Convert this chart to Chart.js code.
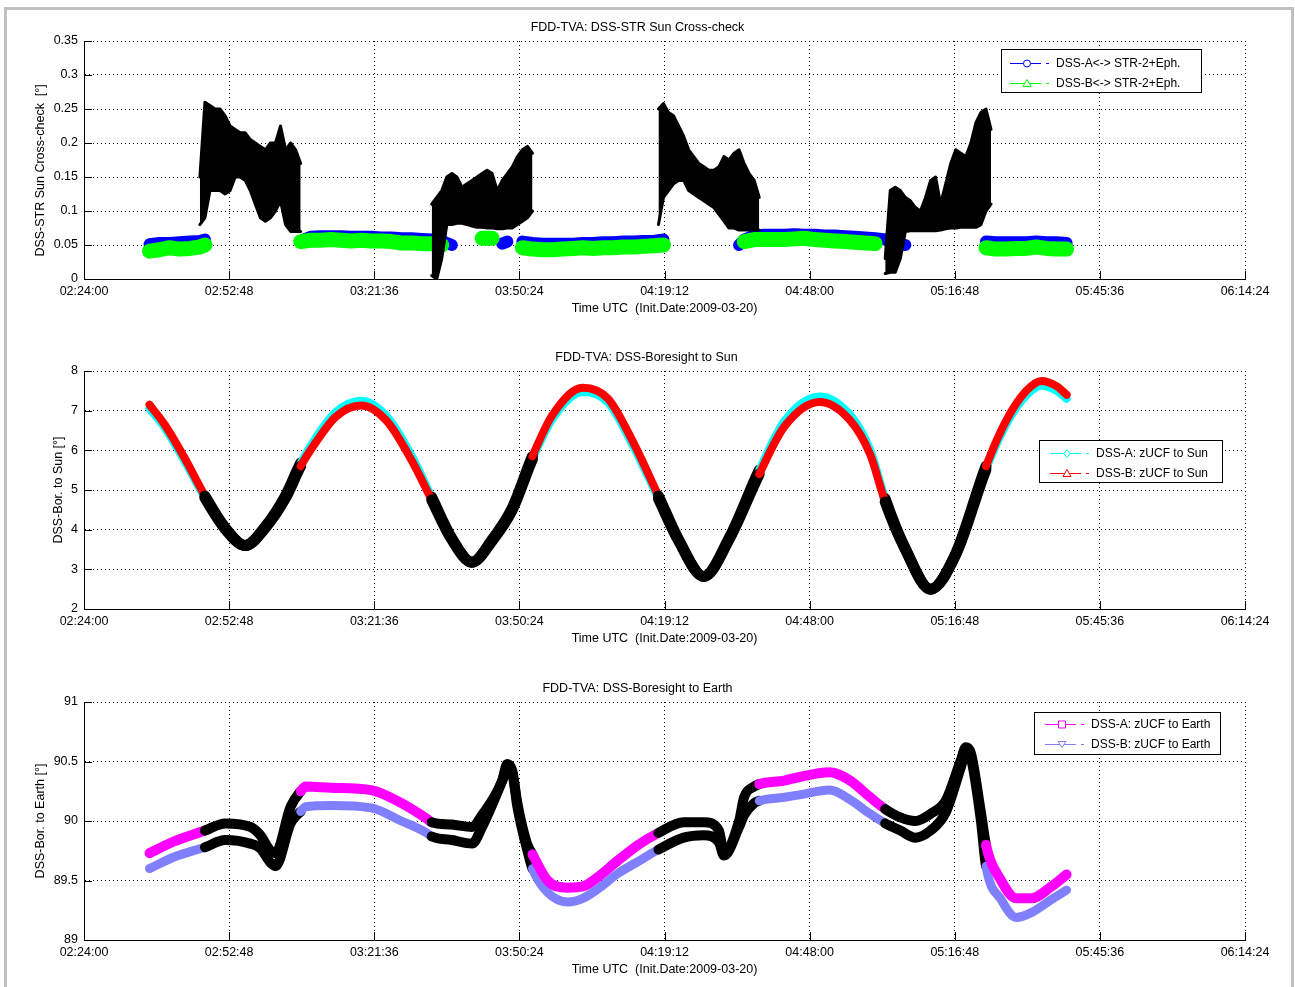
<!DOCTYPE html>
<html>
<head>
<meta charset="utf-8">
<title>FDD-TVA DSS checks</title>
<script src="https://cdn.jsdelivr.net/npm/chart.js@4.4.1/dist/chart.umd.min.js"></script>
<style>
  html, body { margin: 0; padding: 0; background: #fff; }
  body { width: 1295px; height: 987px; position: relative; overflow: hidden; }
  .frame { position: absolute; left: 4px; top: 7px; width: 1290px; height: 1010px; border: 3px solid #c0c0c0; box-sizing: border-box; }
  canvas { position: absolute; left: 0; display: block; }
</style>
</head>
<body>
<div class="frame"></div>
<canvas id="cross" width="1295" height="330" style="top:0"></canvas>
<canvas id="sun" width="1295" height="330" style="top:330px"></canvas>
<canvas id="earth" width="1295" height="330" style="top:661px"></canvas>
<script>
// x axis range (UTC time of day)
const xStart = '02:24:00';
const xEnd = '06:14:24';
const xStep = '00:28:48';

// intervals drawn in black on every panel
const flagWindows = [['02:48', '03:07'], ['03:33', '03:53'], ['04:18', '04:38'], ['05:03', '05:23']];

// --- panel 1: DSS / STR sun cross-check [deg] (null = gap)
const crossTimes = [
  '02:37', '02:39', '02:41', '02:43', '02:45', '02:47', '02:48',
  '02:58',
  '03:07', '03:09', '03:11', '03:13', '03:15', '03:17', '03:19', '03:21', '03:23', '03:25', '03:27', '03:29', '03:31', '03:33', '03:35', '03:37',
  '03:40',
  '03:43', '03:45', '03:46', '03:47', '03:48',
  '03:49',
  '03:51', '03:53', '03:55', '03:57', '03:59', '04:01', '04:03', '04:05', '04:07', '04:09', '04:11', '04:13', '04:15', '04:17', '04:19',
  '04:27',
  '04:34', '04:35', '04:37', '04:39', '04:41', '04:43', '04:45', '04:47', '04:49', '04:51', '04:53', '04:55', '04:57', '04:59', '05:01', '05:03', '05:05', '05:07',
  '05:15',
  '05:23', '05:25', '05:27', '05:29', '05:31', '05:33', '05:35', '05:37', '05:39'
];
const crossA = [
  0.051, 0.053, 0.053, 0.054, 0.055, 0.056, 0.058,
  null,
  0.056, 0.062, 0.063, 0.063, 0.063, 0.062, 0.062, 0.062, 0.061, 0.061, 0.060, 0.060, 0.059, 0.058, 0.056, 0.050,
  null,
  null, null, null, 0.052, 0.055,
  null,
  0.055, 0.053, 0.052, 0.052, 0.052, 0.052, 0.053, 0.053, 0.054, 0.054, 0.055, 0.055, 0.056, 0.056, 0.058,
  null,
  0.050, 0.058, 0.064, 0.065, 0.065, 0.065, 0.066, 0.065, 0.065, 0.064, 0.064, 0.063, 0.062, 0.061, 0.060, 0.058, 0.050, 0.050,
  null,
  0.055, 0.054, 0.054, 0.054, 0.054, 0.055, 0.054, 0.054, 0.053
];
const crossB = [
  0.041, 0.043, 0.046, 0.044, 0.045, 0.047, 0.050,
  null,
  0.055, 0.057, 0.057, 0.058, 0.057, 0.056, 0.057, 0.056, 0.056, 0.055, 0.053, 0.053, 0.052, 0.052, 0.050, null,
  null,
  0.060, 0.060, null, null, null,
  null,
  0.046, 0.044, 0.043, 0.043, 0.044, 0.045, 0.046, 0.045, 0.046, 0.046, 0.047, 0.047, 0.048, 0.049, 0.050,
  null,
  null, 0.055, 0.058, 0.058, 0.058, 0.058, 0.059, 0.060, 0.058, 0.057, 0.056, 0.055, 0.054, 0.053, 0.052, null, null, null,
  null,
  0.046, 0.044, 0.044, 0.045, 0.045, 0.047, 0.045, 0.044, 0.044
];
// flagged points, drawn as an upper / lower envelope
const blackTimes = [
  '02:47', '02:48', '02:49', '02:50', '02:51', '02:52', '02:53', '02:54', '02:55', '02:56', '02:57',
  '02:58', '02:59', '03:00', '03:01', '03:02', '03:03', '03:04', '03:05', '03:06', '03:07',
  '03:20',
  '03:33', '03:34', '03:35', '03:36', '03:37', '03:38', '03:39', '03:40', '03:41', '03:42', '03:43',
  '03:44', '03:45', '03:46', '03:47', '03:48', '03:49', '03:50', '03:51', '03:52', '03:53',
  '04:05',
  '04:18', '04:19', '04:20', '04:21', '04:22', '04:23', '04:24', '04:25', '04:26', '04:27', '04:28',
  '04:29', '04:30', '04:31', '04:32', '04:33', '04:34', '04:35', '04:36', '04:37', '04:38',
  '04:50',
  '05:03', '05:04', '05:05', '05:06', '05:07', '05:08', '05:09', '05:10', '05:11', '05:12', '05:13',
  '05:14', '05:15', '05:16', '05:17', '05:18', '05:19', '05:20', '05:21', '05:22', '05:23', '05:24'
];
const blackHigh = [
  0.150, 0.260, 0.255, 0.250, 0.250, 0.240, 0.225, 0.220, 0.215, 0.215, 0.205,
  0.200, 0.195, 0.190, 0.200, 0.200, 0.225, 0.190, 0.200, 0.190, 0.170,
  null,
  0.110, 0.120, 0.130, 0.150, 0.155, 0.150, 0.135, 0.140, 0.145, 0.150, 0.155,
  0.160, 0.155, 0.130, 0.145, 0.155, 0.165, 0.180, 0.190, 0.195, 0.185,
  null,
  0.250, 0.258, 0.245, 0.240, 0.225, 0.210, 0.190, 0.180, 0.170, 0.165, 0.160,
  0.160, 0.165, 0.180, 0.175, 0.185, 0.190, 0.170, 0.155, 0.145, 0.120,
  null,
  0.030, 0.130, 0.135, 0.130, 0.120, 0.115, 0.105, 0.100, 0.120, 0.145, 0.150,
  0.110, 0.140, 0.170, 0.190, 0.185, 0.180, 0.200, 0.230, 0.245, 0.250, 0.220
];
const blackLow = [
  0.080, 0.090, 0.130, 0.130, 0.130, 0.125, 0.130, 0.150, 0.150, 0.145, 0.130,
  0.110, 0.090, 0.085, 0.090, 0.100, 0.115, 0.080, 0.070, 0.070, 0.070,
  null,
  0.005, 0.000, 0.030, 0.080, 0.080, 0.082, 0.082, 0.080, 0.078, 0.076, 0.076,
  0.075, 0.075, 0.074, 0.074, 0.075, 0.075, 0.080, 0.085, 0.090, 0.100,
  null,
  0.080, 0.120, 0.130, 0.140, 0.145, 0.145, 0.130, 0.125, 0.120, 0.115, 0.110,
  0.105, 0.095, 0.085, 0.075, 0.075, 0.072, 0.072, 0.072, 0.072, 0.072,
  null,
  0.008, 0.010, 0.010, 0.030, 0.070, 0.071, 0.071, 0.071, 0.071, 0.071, 0.071,
  0.072, 0.074, 0.075, 0.075, 0.076, 0.076, 0.076, 0.076, 0.080, 0.100, 0.110
];

// --- panel 2: DSS boresight to Sun [deg]
const sunTimes = [
  '02:37', '02:40', '02:44', '02:48', '02:52', '02:56', '03:00', '03:04', '03:07', '03:10', '03:14',
  '03:19', '03:24', '03:29', '03:33', '03:37', '03:41', '03:45', '03:49', '03:53', '03:57', '04:03',
  '04:08', '04:13', '04:18', '04:22', '04:27', '04:32', '04:38', '04:43', '04:50', '04:56', '05:00',
  '05:03', '05:07', '05:12', '05:17', '05:23', '05:27', '05:31', '05:34', '05:37', '05:39'
];
const sunA = [
  7.05, 6.57, 5.72, 4.80, 4.02, 3.60, 4.08, 4.86, 5.68, 6.32, 6.97,
  7.25, 6.87, 5.87, 4.82, 3.78, 3.18, 3.72, 4.50, 5.78, 6.80, 7.47,
  7.20, 6.10, 4.78, 3.72, 2.82, 3.78, 5.50, 6.74, 7.36, 6.90, 6.02,
  4.78, 3.52, 2.50, 3.37, 5.52, 6.65, 7.38, 7.63, 7.50, 7.30
];
const sunB = [
  7.15, 6.65, 5.80, 4.85, 4.05, 3.60, 4.05, 4.80, 5.60, 6.20, 6.85,
  7.13, 6.75, 5.75, 4.75, 3.75, 3.18, 3.75, 4.55, 5.85, 6.90, 7.58,
  7.30, 6.20, 4.85, 3.75, 2.82, 3.75, 5.40, 6.60, 7.22, 6.76, 5.90,
  4.70, 3.50, 2.50, 3.40, 5.60, 6.75, 7.50, 7.75, 7.62, 7.40
];

// --- panel 3: DSS boresight to Earth [deg]
const earthTimes = [
  '02:37', '02:42', '02:48', '02:52', '02:57', '02:59', '03:01', '03:02', '03:05', '03:07',
  '03:08', '03:13', '03:21', '03:27', '03:32', '03:33', '03:37', '03:41', '03:43', '03:47',
  '03:48', '03:49', '03:50', '03:51', '03:52', '03:53', '03:56', '04:00', '04:03', '04:06',
  '04:10', '04:14', '04:18', '04:23', '04:27', '04:30', '04:31', '04:34', '04:35', '04:37',
  '04:38', '04:43', '04:46', '04:52', '04:56', '05:00', '05:03', '05:06', '05:09', '05:12',
  '05:15', '05:18', '05:19', '05:20', '05:22', '05:23', '05:26', '05:29', '05:32', '05:36',
  '05:39'
];
const earthA = [
  89.73, 89.83, 89.92, 89.98, 89.95, 89.88, 89.75, 89.73, 90.12, 90.25,
  90.29, 90.28, 90.26, 90.15, 90.02, 89.99, 89.97, 89.95, 90.05, 90.34,
  90.48, 90.42, 90.15, 89.95, 89.80, 89.72, 89.50, 89.44, 89.45, 89.53,
  89.67, 89.80, 89.90, 89.99, 89.99, 89.92, 89.73, 90.00, 90.20, 90.29,
  90.31, 90.34, 90.37, 90.41, 90.34, 90.20, 90.10, 90.03, 90.00, 90.06,
  90.17, 90.51, 90.62, 90.57, 90.07, 89.80, 89.50, 89.35, 89.35, 89.45,
  89.55
];
const earthB = [
  89.60, 89.70, 89.78, 89.84, 89.81, 89.77, 89.65, 89.62, 89.98, 90.08,
  90.12, 90.13, 90.11, 90.00, 89.90, 89.87, 89.84, 89.81, 89.95, 90.34,
  90.45, 90.40, 90.12, 89.92, 89.75, 89.60, 89.40, 89.32, 89.35, 89.43,
  89.56, 89.66, 89.76, 89.86, 89.88, 89.82, 89.71, 89.95, 90.05, 90.15,
  90.17, 90.20, 90.22, 90.26, 90.18, 90.06, 89.98, 89.92, 89.86, 89.92,
  90.07, 90.45, 90.58, 90.53, 90.00, 89.62, 89.34, 89.19, 89.23, 89.34,
  89.42
];

const FONT = '"Liberation Sans", Arial, Helvetica, sans-serif';
Chart.defaults.font.family = FONT;
Chart.defaults.font.size = 12.5;
Chart.defaults.color = '#000';

const toSec = t => {
  const p = t.split(':').map(Number);
  return p[0] * 3600 + p[1] * 60 + (p[2] || 0);
};
const hms = s => [Math.floor(s / 3600), Math.floor(s / 60) % 60, Math.round(s) % 60]
  .map(n => String(n).padStart(2, '0')).join(':');
const pts = (times, vals) => times.map((t, i) => ({ x: toSec(t), y: vals[i] }));

const flagSec = flagWindows.map(w => w.map(toSec));
const inFlag = ctx => flagSec.some(([a, b]) => ctx.p0.parsed.x >= a && ctx.p1.parsed.x <= b);
const flagged = width => ({
  borderColor: ctx => inFlag(ctx) ? '#000' : undefined,
  borderWidth: ctx => inFlag(ctx) ? width : undefined
});

// matlab-like ticks pointing into the axes
const inwardTicks = {
  id: 'inwardTicks',
  afterDraw(chart) {
    const { ctx, chartArea: a, scales: { x, y } } = chart;
    ctx.save();
    ctx.strokeStyle = '#000';
    ctx.lineWidth = 1;
    ctx.beginPath();
    x.ticks.forEach(t => {
      const px = Math.round(x.getPixelForValue(t.value)) + 0.5;
      ctx.moveTo(px, a.bottom);
      ctx.lineTo(px, a.bottom - 8);
    });
    y.ticks.forEach(t => {
      const py = Math.round(y.getPixelForValue(t.value)) + 0.5;
      ctx.moveTo(a.left, py);
      ctx.lineTo(a.left + 8, py);
    });
    ctx.stroke();
    ctx.restore();
  }
};

function drawMarker(ctx, kind, x, y, color) {
  ctx.save();
  ctx.strokeStyle = color;
  ctx.fillStyle = '#fff';
  ctx.lineWidth = 1;
  ctx.beginPath();
  if (kind === 'circle') ctx.arc(x, y, 3.5, 0, Math.PI * 2);
  if (kind === 'triangle') { ctx.moveTo(x, y - 4); ctx.lineTo(x + 4, y + 3); ctx.lineTo(x - 4, y + 3); ctx.closePath(); }
  if (kind === 'triangleDown') { ctx.moveTo(x, y + 3); ctx.lineTo(x + 4, y - 3); ctx.lineTo(x - 4, y - 3); ctx.closePath(); }
  if (kind === 'diamond') { ctx.moveTo(x, y - 4); ctx.lineTo(x + 3, y); ctx.lineTo(x, y + 4); ctx.lineTo(x - 3, y); ctx.closePath(); }
  if (kind === 'square') ctx.rect(x - 3.5, y - 3.5, 7, 7);
  ctx.fill();
  ctx.stroke();
  ctx.restore();
}

const matlabLegend = {
  id: 'matlabLegend',
  afterDraw(chart, args, o) {
    const ctx = chart.ctx;
    ctx.save();
    ctx.fillStyle = '#fff';
    ctx.fillRect(o.x, o.y, o.w, o.h);
    ctx.strokeStyle = '#000';
    ctx.lineWidth = 1;
    ctx.strokeRect(o.x + 0.5, o.y + 0.5, o.w, o.h);
    ctx.font = '12px ' + FONT;
    ctx.textBaseline = 'middle';
    o.items.forEach((it, i) => {
      const cy = Math.round(o.y + o.r0 + i * 20) + 0.5;
      ctx.strokeStyle = it.color;
      ctx.beginPath();
      ctx.moveTo(o.sx, cy);
      ctx.lineTo(o.sx + 31, cy);
      ctx.moveTo(o.sx + 36, cy);
      ctx.lineTo(o.sx + 39, cy);
      ctx.stroke();
      drawMarker(ctx, it.marker, o.sx + 17, cy, it.color);
      ctx.fillStyle = '#000';
      ctx.fillText(it.label, o.sx + 46, cy);
    });
    ctx.restore();
  }
};

function panel(id, cfg) {
  return new Chart(document.getElementById(id), {
    type: 'line',
    data: { datasets: cfg.datasets },
    options: {
      responsive: false,
      animation: false,
      events: [],
      layout: { padding: { top: 19, left: cfg.padLeft, right: 50, bottom: 11 } },
      elements: {
        point: { radius: 0 },
        line: { borderCapStyle: 'round', borderJoinStyle: 'round' }
      },
      plugins: {
        legend: { display: false },
        tooltip: { enabled: false },
        title: {
          display: true, text: cfg.title, color: '#000',
          font: { size: 12.5, weight: 'normal' }, padding: { top: 1.5, bottom: 5.5 }
        },
        matlabLegend: cfg.legend
      },
      scales: {
        x: {
          type: 'linear',
          min: toSec(xStart),
          max: toSec(xEnd),
          afterFit: s => { s.height = 40; s.paddingLeft = 0; s.paddingRight = 0; },
          ticks: { stepSize: toSec(xStep), padding: 5, maxRotation: 0, autoSkip: false, callback: v => hms(v) },
          grid: { color: '#000', lineWidth: 1, drawTicks: false },
          border: { color: '#000', width: 1, dash: [1, 3] },
          title: { display: true, text: 'Time UTC  (Init.Date:2009-03-20)', padding: { top: 0, bottom: 3 } }
        },
        y: {
          min: cfg.yMin,
          max: cfg.yMax,
          afterFit: s => { s.width = 84 - cfg.padLeft; s.paddingTop = 0; s.paddingBottom = 0; },
          ticks: { stepSize: cfg.yStep, padding: 6, callback: cfg.yFmt },
          grid: { color: '#000', lineWidth: 1, drawTicks: false },
          border: { color: '#000', width: 1, dash: [1, 3] },
          title: { display: true, text: cfg.yTitle, padding: { top: 3.5, bottom: 0 } }
        }
      }
    },
    plugins: [inwardTicks, matlabLegend]
  });
}

panel('cross', {
  title: 'FDD-TVA: DSS-STR Sun Cross-check',
  yTitle: 'DSS-STR Sun Cross-check  [°]      ',
  padLeft: 30, yMin: 0, yMax: 0.35, yStep: 0.05,
  yFmt: v => String(+v.toFixed(2)),
  legend: {
    x: 1001, y: 49, w: 200, h: 43, sx: 1010, r0: 14,
    items: [
      { label: 'DSS-A<-> STR-2+Eph.', color: '#0000ff', marker: 'circle' },
      { label: 'DSS-B<-> STR-2+Eph.', color: '#00ff00', marker: 'triangle' }
    ]
  },
  datasets: [
    { label: 'DSS-A<-> STR-2+Eph.', data: pts(crossTimes, crossA), borderColor: '#0000ff', borderWidth: 12, order: 4 },
    { label: 'DSS-B<-> STR-2+Eph.', data: pts(crossTimes, crossB), borderColor: '#00ff00', borderWidth: 15, order: 3 },
    { label: 'flagged high', data: pts(blackTimes, blackHigh), borderColor: '#000', backgroundColor: '#000', borderWidth: 3, fill: '+1', order: 1 },
    { label: 'flagged low', data: pts(blackTimes, blackLow), borderColor: '#000', borderWidth: 3, order: 2 }
  ]
});

panel('sun', {
  title: 'FDD-TVA: DSS-Boresight to Sun',
  yTitle: 'DSS-Bor. to Sun [°]',
  padLeft: 48, yMin: 2, yMax: 8, yStep: 1,
  yFmt: v => String(v),
  legend: {
    x: 1039, y: 110, w: 183, h: 42, sx: 1050, r0: 12.7,
    items: [
      { label: 'DSS-A: zUCF to Sun', color: '#00ffff', marker: 'diamond' },
      { label: 'DSS-B: zUCF to Sun', color: '#ff0000', marker: 'triangle' }
    ]
  },
  datasets: [
    { label: 'DSS-A: zUCF to Sun', data: pts(sunTimes, sunA), borderColor: '#00ffff', borderWidth: 8,
      cubicInterpolationMode: 'monotone', segment: flagged(11), order: 2 },
    { label: 'DSS-B: zUCF to Sun', data: pts(sunTimes, sunB), borderColor: '#ff0000', borderWidth: 8,
      cubicInterpolationMode: 'monotone', segment: flagged(11), order: 1 }
  ]
});

panel('earth', {
  title: 'FDD-TVA: DSS-Boresight to Earth',
  yTitle: 'DSS-Bor. to Earth [°]',
  padLeft: 30, yMin: 89, yMax: 91, yStep: 0.5,
  yFmt: v => String(+v.toFixed(1)),
  legend: {
    x: 1034, y: 51, w: 186, h: 42, sx: 1045, r0: 11.5,
    items: [
      { label: 'DSS-A: zUCF to Earth', color: '#ff00ff', marker: 'square' },
      { label: 'DSS-B: zUCF to Earth', color: '#8080ff', marker: 'triangleDown' }
    ]
  },
  datasets: [
    { label: 'DSS-A: zUCF to Earth', data: pts(earthTimes, earthA), borderColor: '#ff00ff', borderWidth: 10,
      cubicInterpolationMode: 'monotone', segment: flagged(10), order: 1 },
    { label: 'DSS-B: zUCF to Earth', data: pts(earthTimes, earthB), borderColor: '#8080ff', borderWidth: 9,
      cubicInterpolationMode: 'monotone', segment: flagged(10), order: 2 }
  ]
});
</script>
</body>
</html>
